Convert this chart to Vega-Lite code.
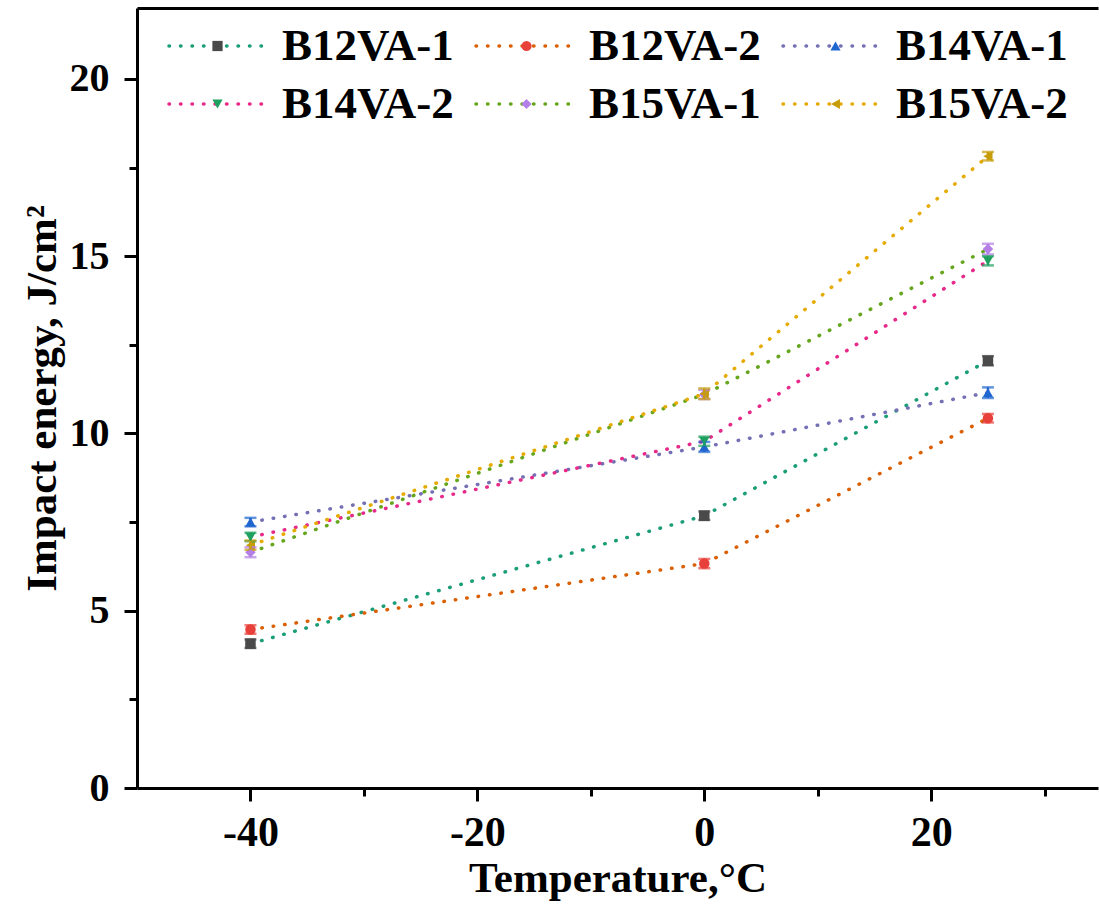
{
  "$schema": "https://vega.github.io/schema/vega-lite/v6.json",
  "width": 961,
  "height": 780,
  "autosize": "none",
  "padding": {"left": 137, "top": 8, "right": 1, "bottom": 116},
  "background": "white",
  "config": {
    "view": {"stroke": null},
    "font": "Liberation Serif"
  },
  "data": {
    "values": [
      {"series": "B12VA-1", "T": -40, "E": 4.07, "err": 0.12},
      {"series": "B12VA-1", "T": 0, "E": 7.68, "err": 0.12},
      {"series": "B12VA-1", "T": 25, "E": 12.05, "err": 0.13},
      {"series": "B12VA-2", "T": -40, "E": 4.47, "err": 0.12},
      {"series": "B12VA-2", "T": 0, "E": 6.33, "err": 0.13},
      {"series": "B12VA-2", "T": 25, "E": 10.43, "err": 0.12},
      {"series": "B14VA-1", "T": -40, "E": 7.50, "err": 0.12},
      {"series": "B14VA-1", "T": 0, "E": 9.62, "err": 0.14},
      {"series": "B14VA-1", "T": 25, "E": 11.15, "err": 0.15},
      {"series": "B14VA-2", "T": -40, "E": 7.08, "err": 0.12},
      {"series": "B14VA-2", "T": 0, "E": 9.78, "err": 0.13},
      {"series": "B14VA-2", "T": 25, "E": 14.87, "err": 0.13},
      {"series": "B15VA-1", "T": -40, "E": 6.65, "err": 0.14},
      {"series": "B15VA-1", "T": 0, "E": 11.10, "err": 0.13},
      {"series": "B15VA-1", "T": 25, "E": 15.20, "err": 0.15},
      {"series": "B15VA-2", "T": -40, "E": 6.85, "err": 0.13},
      {"series": "B15VA-2", "T": 0, "E": 11.12, "err": 0.15},
      {"series": "B15VA-2", "T": 25, "E": 17.82, "err": 0.12}
    ]
  },
  "resolve": {"axis": {"x": "independent"}},
  "layer": [
    {
      "mark": {"type": "line", "strokeWidth": 3.5, "strokeDash": [0.5, 11], "strokeCap": "round"},
      "encoding": {
        "x": {
          "field": "T", "type": "quantitative",
          "scale": {"domain": [-50, 34.7], "nice": false, "zero": false},
          "axis": {
            "orient": "bottom",
            "values": [-40, -30, -20, -10, 0, 10, 20, 30],
            "labelExpr": "datum.value % 20 === 0 ? '' + datum.value : ''",
            "grid": false,
            "domainColor": "black", "domainWidth": 3,
            "tickColor": "black", "tickWidth": 3,
            "tickSize": {"condition": {"test": "datum.value % 20 === 0", "value": 13}, "value": 8},
            "labelFont": "Liberation Serif", "labelFontWeight": "bold", "labelFontSize": 42, "labelColor": "black",
            "labelPadding": 11,
            "title": "Temperature,°C",
            "titleFont": "Liberation Serif", "titleFontWeight": "bold", "titleFontSize": 43, "titleColor": "black",
            "titlePadding": 4
          }
        },
        "y": {
          "field": "E", "type": "quantitative",
          "title": "Impact energy, J/cm²",
          "scale": {"domain": [0, 22], "nice": false, "zero": true},
          "axis": {
            "values": [0, 2.5, 5, 7.5, 10, 12.5, 15, 17.5, 20],
            "labelExpr": "datum.value % 5 === 0 ? '' + datum.value : ''",
            "grid": false,
            "domainColor": "black", "domainWidth": 3,
            "tickColor": "black", "tickWidth": 3,
            "tickSize": {"condition": {"test": "datum.value % 5 === 0", "value": 13}, "value": 8},
            "labelFont": "Liberation Serif", "labelFontWeight": "bold", "labelFontSize": 40, "labelColor": "black",
            "labelPadding": 15,
            "titleFont": "Liberation Serif", "titleFontWeight": "bold", "titleFontSize": 43, "titleColor": "black",
            "titlePadding": 5
          }
        },
        "stroke": {
          "field": "series", "type": "nominal",
          "scale": {
            "domain": ["B12VA-1", "B12VA-2", "B14VA-1", "B14VA-2", "B15VA-1", "B15VA-2"],
            "range": ["#1b9e77", "#d95f02", "#7570b3", "#e7298a", "#66a61e", "#e6ab02"]
          },
          "legend": {
            "title": null, "orient": "none", "legendX": 30, "legendY": 16, "columns": 3, "direction": "horizontal",
            "gridAlign": "all", "padding": 0,
            "symbolType": "stroke", "symbolSize": 8649, "symbolStrokeWidth": 3.5, "symbolDash": [0.5, 11],
            "symbolOffset": 0, "labelOffset": 18,
            "labelFont": "Liberation Serif", "labelFontWeight": "bold", "labelFontSize": 45, "labelColor": "black",
            "clipHeight": 44, "rowPadding": 13, "columnPadding": 20, "labelLimit": 0,
            "encode": {"symbols": {"update": {"strokeCap": {"value": "round"}}}}
          }
        }
      }
    },
    {
      "mark": {"type": "point", "filled": true, "size": 110, "opacity": 1, "strokeWidth": 0},
      "encoding": {
        "x": {
          "field": "T", "type": "quantitative",
          "axis": {"orient": "top", "labels": false, "ticks": false, "title": null, "grid": false, "domainColor": "black", "domainWidth": 3}
        },
        "y": {"field": "E", "type": "quantitative", "title": "Impact energy, J/cm²"},
        "shape": {
          "field": "series", "type": "nominal",
          "scale": {"range": ["square", "circle", "triangle-up", "triangle-down", "diamond", "triangle-left"]},
          "legend": {
            "title": null, "orient": "none", "legendX": 30, "legendY": 16, "columns": 3, "direction": "horizontal",
            "gridAlign": "all", "padding": 0,
            "symbolSize": 105, "symbolStrokeWidth": 0, "symbolOffset": 28, "labelOffset": 0,
            "labelExpr": "''",
            "labelFont": "Liberation Serif", "labelFontWeight": "bold", "labelFontSize": 45,
            "clipHeight": 44, "rowPadding": 13, "columnPadding": 236, "labelLimit": 0
          }
        },
        "fill": {
          "field": "series", "type": "nominal",
          "scale": {"range": ["#4a4a4a", "#e8403a", "#1f66d0", "#1fa060", "#b47fe6", "#c69c0a"]},
          "legend": {
            "title": null, "orient": "none", "legendX": 30, "legendY": 16, "columns": 3, "direction": "horizontal",
            "gridAlign": "all", "padding": 0,
            "symbolSize": 105, "symbolStrokeWidth": 0, "symbolOffset": 28, "labelOffset": 0,
            "labelExpr": "''",
            "labelFont": "Liberation Serif", "labelFontWeight": "bold", "labelFontSize": 45,
            "clipHeight": 44, "rowPadding": 13, "columnPadding": 236, "labelLimit": 0
          }
        }
      }
    },
    {
      "mark": {"type": "errorbar", "ticks": {"size": 12, "thickness": 2.5}, "thickness": 2.5},
      "encoding": {
        "x": {"field": "T", "type": "quantitative", "axis": null},
        "y": {"field": "E", "type": "quantitative", "title": "Impact energy, J/cm²"},
        "yError": {"field": "err"},
        "color": {
          "field": "series", "type": "nominal",
          "scale": {"range": ["#4a4a4a", "#e8403a", "#1f66d0", "#1fa060", "#b47fe6", "#c69c0a"]},
          "legend": null
        }
      }
    }
  ]
}
